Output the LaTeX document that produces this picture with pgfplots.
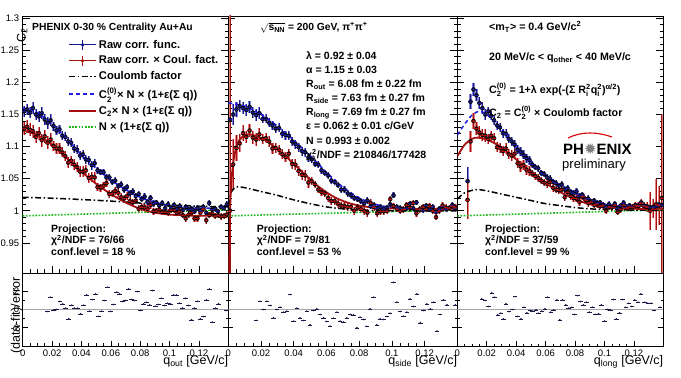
\documentclass[border=0pt]{standalone}
\usepackage{pgfplots}
\pgfplotsset{compat=1.18}
\usepackage{pgfplotstable}
\usepackage{amsmath}
\usepackage{fontspec}
\setmainfont{Liberation Sans}
\newfontfamily\djv{DejaVu Sans}

\definecolor{dblue}{RGB}{25,25,140}
\definecolor{lblue}{RGB}{130,130,215}
\definecolor{dred}{RGB}{165,15,15}
\definecolor{lred}{RGB}{228,130,130}
\definecolor{fblue}{RGB}{30,30,230}
\definecolor{fgreen}{RGB}{20,185,20}
\definecolor{resc}{RGB}{25,25,70}

\newcommand{\fb}{\fontsize{10.3}{12}\selectfont\bfseries}
\newcommand{\fc}{\fontsize{10.7}{12}\selectfont\bfseries}
\newcommand{\fp}{\fontsize{10.5}{12}\selectfont\bfseries}

% point with a short horizontal bar, as ROOT draws it
\pgfdeclareplotmark{hdot}{%
  \pgfpathmoveto{\pgfqpoint{-2.2pt}{0pt}}\pgfpathlineto{\pgfqpoint{2.2pt}{0pt}}\pgfusepathqstroke
  \pgfpathcircle{\pgfpointorigin}{\pgfplotmarksize}\pgfusepathqfill}

% ---------- panel 1 : q_out ----------
\pgfplotstableread{
q y e
0.001 1.128 0.010
0.003 1.131 0.010
0.005 1.126 0.010
0.007 1.124 0.010
0.009 1.115 0.010
0.011 1.121 0.010
0.013 1.110 0.010
0.015 1.116 0.010
0.017 1.106 0.010
0.019 1.111 0.010
0.021 1.101 0.008
0.023 1.097 0.008
0.025 1.097 0.008
0.027 1.091 0.008
0.029 1.085 0.008
0.031 1.075 0.008
0.033 1.078 0.008
0.035 1.072 0.008
0.037 1.068 0.008
0.039 1.061 0.008
0.041 1.061 0.008
0.043 1.063 0.008
0.045 1.051 0.008
0.047 1.053 0.008
0.049 1.052 0.008
0.051 1.037 0.006
0.053 1.036 0.006
0.055 1.039 0.006
0.057 1.043 0.006
0.059 1.026 0.006
0.061 1.027 0.006
0.063 1.031 0.006
0.065 1.028 0.006
0.067 1.021 0.006
0.069 1.019 0.006
0.071 1.023 0.006
0.073 1.015 0.006
0.075 1.013 0.006
0.077 1.016 0.006
0.079 1.003 0.006
0.081 1.006 0.006
0.083 1.005 0.006
0.085 1.003 0.006
0.087 1.009 0.006
0.089 0.999 0.006
0.091 1.000 0.005
0.093 1.002 0.005
0.095 0.998 0.005
0.097 0.998 0.005
0.099 0.997 0.005
0.101 1.001 0.005
0.103 1.001 0.005
0.105 0.997 0.005
0.107 0.999 0.005
0.109 0.993 0.005
0.111 0.988 0.005
0.113 0.994 0.005
0.115 0.997 0.005
0.117 0.988 0.005
0.119 0.988 0.005
0.121 0.997 0.005
0.123 1.003 0.005
0.125 0.985 0.005
0.127 0.993 0.005
0.129 0.996 0.005
0.131 0.992 0.005
0.133 0.993 0.005
0.135 0.991 0.005
0.137 0.992 0.005
0.139 0.994 0.005
}\redA

\pgfplotstableread{
q y e
0.001 1.155 0.009
0.003 1.158 0.009
0.005 1.153 0.009
0.007 1.160 0.009
0.009 1.150 0.009
0.011 1.147 0.009
0.013 1.152 0.009
0.015 1.142 0.009
0.017 1.137 0.009
0.019 1.141 0.009
0.021 1.132 0.007
0.023 1.125 0.007
0.025 1.127 0.007
0.027 1.117 0.007
0.029 1.115 0.007
0.031 1.108 0.007
0.033 1.106 0.007
0.035 1.097 0.007
0.037 1.095 0.007
0.039 1.086 0.007
0.041 1.088 0.007
0.043 1.080 0.007
0.045 1.079 0.007
0.047 1.071 0.007
0.049 1.074 0.007
0.051 1.063 0.005
0.053 1.060 0.005
0.055 1.060 0.005
0.057 1.052 0.005
0.059 1.052 0.005
0.061 1.045 0.005
0.063 1.047 0.005
0.065 1.038 0.005
0.067 1.041 0.005
0.069 1.033 0.005
0.071 1.037 0.005
0.073 1.027 0.005
0.075 1.030 0.005
0.077 1.023 0.005
0.079 1.026 0.005
0.081 1.018 0.005
0.083 1.022 0.005
0.085 1.014 0.005
0.087 1.020 0.005
0.089 1.011 0.005
0.091 1.013 0.0045
0.093 1.008 0.0045
0.095 1.012 0.0045
0.097 1.004 0.0045
0.099 1.010 0.0045
0.101 1.005 0.0045
0.103 1.009 0.0045
0.105 1.003 0.0045
0.107 1.007 0.0045
0.109 1.001 0.0045
0.111 1.006 0.0045
0.113 1.002 0.0045
0.115 1.003 0.0045
0.117 0.999 0.0045
0.119 1.004 0.0045
0.121 1.000 0.0045
0.123 1.006 0.0045
0.125 0.997 0.0045
0.127 1.012 0.0045
0.129 1.002 0.0045
0.131 1.003 0.0045
0.133 0.999 0.0045
0.135 1.006 0.0045
0.137 1.004 0.0045
0.139 1.010 0.0045
}\blueA

\pgfplotstableread{
q r
0.0170 -0.22
0.0190 1.35
0.0211 -0.04
0.0231 0.00
0.0252 0.87
0.0272 0.62
0.0292 0.15
0.0313 -1.02
0.0333 0.47
0.0354 0.15
0.0374 0.15
0.0394 -0.47
0.0415 0.47
0.0435 1.60
0.0456 -0.18
0.0476 1.09
0.0496 1.71
0.0517 -0.76
0.0537 -0.18
0.0558 0.98
0.0578 2.44
0.0598 -0.22
0.0619 0.55
0.0639 1.89
0.0660 1.71
0.0680 0.87
0.0700 0.98
0.0721 2.25
0.0741 1.09
0.0762 0.98
0.0782 1.96
0.0802 -0.11
0.0823 0.62
0.0843 0.80
0.0864 0.51
0.0884 2.07
0.0904 0.36
0.0925 0.55
0.0945 1.24
0.0966 0.44
0.0986 0.69
0.1006 0.62
0.1027 1.60
0.1047 1.60
0.1068 0.69
0.1088 0.15
0.1108 1.24
0.1129 0.44
0.1149 -1.13
0.1170 0.15
0.1190 0.91
0.1210 -1.02
0.1231 -0.76
0.1251 1.05
0.1272 2.25
0.1292 -1.38
0.1312 0.15
0.1333 0.62
0.1385 -0.11
}\resA

% ---------- panel 2 : q_side ----------
\pgfplotstableread{
q y e
0.001 1.000 0.350
0.003 1.072 0.040
0.005 1.098 0.020
0.007 1.105 0.014
0.009 1.121 0.012
0.011 1.115 0.010
0.013 1.125 0.010
0.015 1.114 0.010
0.017 1.111 0.010
0.019 1.119 0.010
0.021 1.112 0.008
0.023 1.113 0.008
0.025 1.108 0.008
0.027 1.097 0.008
0.029 1.098 0.008
0.031 1.095 0.008
0.033 1.088 0.008
0.035 1.084 0.008
0.037 1.089 0.008
0.039 1.073 0.008
0.041 1.072 0.008
0.043 1.062 0.008
0.045 1.056 0.008
0.047 1.055 0.008
0.049 1.044 0.008
0.051 1.046 0.006
0.053 1.041 0.006
0.055 1.033 0.006
0.057 1.029 0.006
0.059 1.027 0.006
0.061 1.020 0.006
0.063 1.015 0.006
0.065 1.015 0.006
0.067 1.011 0.006
0.069 1.008 0.006
0.071 1.007 0.006
0.073 1.006 0.006
0.075 1.006 0.006
0.077 1.000 0.006
0.079 1.005 0.006
0.081 1.003 0.006
0.083 1.000 0.006
0.085 0.997 0.006
0.087 1.012 0.006
0.089 1.006 0.006
0.091 0.996 0.005
0.093 0.999 0.005
0.095 0.999 0.005
0.097 1.000 0.005
0.099 1.018 0.005
0.101 1.007 0.005
0.103 1.003 0.005
0.105 1.000 0.005
0.107 1.002 0.005
0.109 1.009 0.005
0.111 1.005 0.005
0.113 1.012 0.005
0.115 0.996 0.005
0.117 1.002 0.005
0.119 1.006 0.005
0.121 1.003 0.005
0.123 1.007 0.005
0.125 1.000 0.005
0.127 0.990 0.005
0.129 1.000 0.005
0.131 1.008 0.005
0.133 1.005 0.005
0.135 1.004 0.005
0.137 1.007 0.005
0.139 1.005 0.005
}\redB

\pgfplotstableread{
q y e
0.001 1.142 0.025
0.003 1.150 0.016
0.005 1.158 0.012
0.007 1.163 0.009
0.009 1.160 0.009
0.011 1.157 0.009
0.013 1.162 0.009
0.015 1.153 0.009
0.017 1.149 0.009
0.019 1.152 0.009
0.021 1.143 0.007
0.023 1.143 0.007
0.025 1.137 0.007
0.027 1.133 0.007
0.029 1.128 0.007
0.031 1.129 0.007
0.033 1.120 0.007
0.035 1.118 0.007
0.037 1.117 0.007
0.039 1.108 0.007
0.041 1.104 0.007
0.043 1.099 0.007
0.045 1.093 0.007
0.047 1.091 0.007
0.049 1.083 0.007
0.051 1.080 0.005
0.053 1.073 0.005
0.055 1.072 0.005
0.057 1.063 0.005
0.059 1.059 0.005
0.061 1.055 0.005
0.063 1.047 0.005
0.065 1.045 0.005
0.067 1.040 0.005
0.069 1.033 0.005
0.071 1.033 0.005
0.073 1.027 0.005
0.075 1.024 0.005
0.077 1.020 0.005
0.079 1.018 0.005
0.081 1.015 0.005
0.083 1.011 0.005
0.085 1.016 0.005
0.087 1.007 0.005
0.089 1.009 0.005
0.091 1.004 0.0045
0.093 1.006 0.0045
0.095 1.003 0.0045
0.097 1.005 0.0045
0.099 1.010 0.0045
0.101 1.024 0.0045
0.103 1.006 0.0045
0.105 1.004 0.0045
0.107 1.002 0.0045
0.109 1.004 0.0045
0.111 1.011 0.0045
0.113 1.004 0.0045
0.115 1.013 0.0045
0.117 1.002 0.0045
0.119 1.001 0.0045
0.121 1.008 0.0045
0.123 1.002 0.0045
0.125 1.006 0.0045
0.127 0.998 0.0045
0.129 1.003 0.0045
0.131 1.007 0.0045
0.133 1.003 0.0045
0.135 1.004 0.0045
0.137 1.009 0.0045
0.139 1.004 0.0045
}\blueB

\pgfplotstableread{
q r
0.0170 -1.20
0.0194 0.91
0.0215 0.00
0.0235 0.91
0.0256 0.44
0.0276 -0.91
0.0296 0.00
0.0317 0.25
0.0337 -0.29
0.0358 -0.18
0.0378 1.64
0.0398 -1.27
0.0419 0.15
0.0439 -0.91
0.0460 -1.20
0.0480 -0.18
0.0500 -1.67
0.0521 -0.11
0.0541 0.07
0.0562 -0.55
0.0582 -0.91
0.0602 -1.31
0.0623 -1.82
0.0643 -0.95
0.0664 -0.29
0.0684 -1.27
0.0704 -1.38
0.0725 -0.91
0.0745 -0.55
0.0766 -0.58
0.0786 -2.00
0.0806 -0.84
0.0827 -1.09
0.0847 -1.85
0.0868 0.07
0.0888 1.35
0.0908 -1.67
0.0929 -1.02
0.0949 -1.09
0.0970 -0.76
0.0990 -0.40
0.1010 2.98
0.1031 0.80
0.1051 -0.22
0.1072 -0.73
0.1092 -0.29
0.1112 1.16
0.1133 0.33
0.1153 1.71
0.1174 -1.45
0.1194 -0.11
0.1214 0.62
0.1235 0.07
0.1255 0.80
0.1276 -2.36
0.1296 -0.55
0.1316 1.05
0.1337 0.51
0.1388 0.51
}\resB

% ---------- panel 3 : q_long ----------
\pgfplotstableread{
q y e
0.007 1.017 0.030
0.009 1.108 0.016
0.011 1.140 0.013
0.013 1.128 0.010
0.015 1.122 0.010
0.017 1.118 0.010
0.019 1.117 0.010
0.021 1.112 0.008
0.023 1.117 0.008
0.025 1.113 0.008
0.027 1.099 0.008
0.029 1.098 0.008
0.031 1.093 0.008
0.033 1.097 0.008
0.035 1.088 0.008
0.037 1.086 0.008
0.039 1.089 0.008
0.041 1.074 0.008
0.043 1.069 0.008
0.045 1.071 0.008
0.047 1.064 0.008
0.049 1.062 0.008
0.051 1.058 0.006
0.053 1.054 0.006
0.055 1.051 0.006
0.057 1.047 0.006
0.059 1.044 0.006
0.061 1.042 0.006
0.063 1.045 0.006
0.065 1.036 0.006
0.067 1.033 0.006
0.069 1.032 0.006
0.071 1.033 0.006
0.073 1.021 0.006
0.075 1.029 0.006
0.077 1.023 0.006
0.079 1.020 0.006
0.081 1.019 0.006
0.083 1.014 0.006
0.085 1.022 0.006
0.087 1.017 0.006
0.089 1.012 0.006
0.091 1.014 0.005
0.093 1.009 0.005
0.095 1.010 0.005
0.097 1.007 0.005
0.099 1.008 0.005
0.101 1.000 0.005
0.103 1.006 0.005
0.105 1.005 0.005
0.107 1.009 0.005
0.109 0.998 0.005
0.111 1.002 0.005
0.113 1.009 0.005
0.115 1.004 0.005
0.117 1.006 0.005
0.119 1.005 0.005
0.121 1.008 0.005
0.123 1.007 0.006
0.125 1.012 0.006
0.127 1.007 0.007
0.129 1.006 0.008
0.131 1.000 0.030
0.133 1.003 0.015
0.135 1.010 0.040
0.137 1.008 0.030
0.139 1.020 0.130
}\redC

\pgfplotstableread{
q y e
0.007 1.046 0.022
0.009 1.170 0.012
0.011 1.189 0.010
0.013 1.180 0.009
0.015 1.168 0.009
0.017 1.160 0.009
0.019 1.150 0.009
0.021 1.155 0.007
0.023 1.148 0.007
0.025 1.141 0.007
0.027 1.133 0.007
0.029 1.130 0.007
0.031 1.121 0.007
0.033 1.120 0.007
0.035 1.112 0.007
0.037 1.108 0.007
0.039 1.103 0.007
0.041 1.095 0.007
0.043 1.092 0.007
0.045 1.087 0.007
0.047 1.082 0.007
0.049 1.079 0.007
0.051 1.072 0.005
0.053 1.068 0.005
0.055 1.066 0.005
0.057 1.059 0.005
0.059 1.057 0.005
0.061 1.052 0.005
0.063 1.050 0.005
0.065 1.045 0.005
0.067 1.043 0.005
0.069 1.039 0.005
0.071 1.041 0.005
0.073 1.033 0.005
0.075 1.035 0.005
0.077 1.029 0.005
0.079 1.027 0.005
0.081 1.030 0.005
0.083 1.022 0.005
0.085 1.025 0.005
0.087 1.018 0.005
0.089 1.019 0.005
0.091 1.014 0.0045
0.093 1.016 0.0045
0.095 1.012 0.0045
0.097 1.013 0.0045
0.099 1.009 0.0045
0.101 1.006 0.0045
0.103 1.010 0.0045
0.105 1.006 0.0045
0.107 1.011 0.0045
0.109 1.004 0.0045
0.111 1.008 0.0045
0.113 1.012 0.0045
0.115 1.006 0.0045
0.117 1.008 0.0045
0.119 1.006 0.0045
0.121 1.009 0.0045
0.123 1.008 0.005
0.125 1.013 0.005
0.127 1.008 0.006
0.129 1.007 0.007
0.131 1.005 0.009
0.133 1.006 0.010
0.135 1.007 0.012
0.137 1.010 0.020
0.139 1.009 0.030
}\blueC

\pgfplotstableread{
q r
0.0166 1.16
0.0188 0.98
0.0211 0.33
0.0234 1.82
0.0252 1.35
0.0275 -0.58
0.0295 -0.40
0.0313 -1.02
0.0331 0.62
0.0352 -0.22
0.0374 0.00
0.0393 1.42
0.0410 -0.76
0.0433 -1.02
0.0453 0.25
0.0472 -0.36
0.0494 -0.11
0.0512 -0.18
0.0535 -0.04
0.0553 -0.40
0.0574 -0.18
0.0596 0.07
0.0614 1.35
0.0635 -0.29
0.0655 -0.04
0.0676 1.05
0.0696 -1.13
0.0716 1.05
0.0737 0.51
0.0757 0.15
0.0778 0.25
0.0796 -0.55
0.0816 1.53
0.0836 0.87
0.0857 0.51
0.0877 0.80
0.0898 -0.29
0.0918 0.25
0.0938 -0.55
0.0959 -0.47
0.0979 0.51
0.1000 -1.27
0.1020 0.00
0.1040 -0.04
0.1061 1.09
0.1081 -1.02
0.1102 -0.36
0.1124 1.09
0.1145 0.25
0.1165 0.69
0.1186 0.33
0.1206 1.05
0.1227 0.80
0.1247 1.71
0.1272 0.80
0.1295 0.69
0.1317 0.69
0.1338 -0.11
0.1378 0.25
}\resC

\pgfplotsset{
  rootbase/.style={scale only axis, xmin=0, xmax=0.14, clip=true,
    tick align=inside, xtick pos=left, ytick pos=both,
    xtick={0,0.02,0.04,0.06,0.08,0.1,0.12}, minor x tick num=3,
    axis line style={line width=0.7pt},
    every tick/.style={black, line width=0.6pt},
    ticklabel style={font=\fontsize{9.5}{10}\selectfont},
    xticklabels={}, yticklabels={},
    label style={font=\fontsize{12.5}{14}\selectfont}},
  toppan/.style={rootbase, height=257pt, ymin=0.903, ymax=1.3035,
    ytick={0.95,1,1.05,1.1,1.15,1.2,1.25,1.3}, minor y tick num=4,
    major tick length=7pt, minor tick length=3.5pt},
  botpan/.style={rootbase, height=73pt, ymin=-4, ymax=4,
    ytick={-2,0,2}, minor y tick num=1,
    major tick length=5pt, minor tick length=2.5pt,
    x label style={at={(rel axis cs:1,0)}, anchor=north east, inner sep=0pt, yshift=-9.5pt}},
  lightbar/.style={only marks, mark=none, forget plot,
    error bars/.cd, y dir=both, y explicit, error mark=none,
    error bar style={#1, line width=2.2pt}},
  darkbar/.style={only marks, mark=hdot, mark size=1.3pt, #1, forget plot,
    error bars/.cd, y dir=both, y explicit,
    error mark=none, error bar style={#1, line width=0.7pt}},
  coul/.style={black, line width=1.5pt, dash pattern=on 6pt off 2.5pt on 1.5pt off 2.5pt, forget plot},
  lev/.style={fblue, line width=1.5pt, dash pattern=on 4pt off 3pt, forget plot},
  fitc/.style={dred, line width=1.8pt, forget plot},
  nline/.style={fgreen, line width=1.6pt, dash pattern=on 1.6pt off 1.6pt, forget plot},
}

\begin{document}
\begin{tikzpicture}

% ===== panel 1 top =====
\begin{axis}[toppan, at={(22.7pt,105pt)}, anchor=south west, width=205.6pt,
  yticklabels={0.95,1,1.05,1.1,1.15,1.2,1.25,1.3},
  ylabel={C\textsubscript{2}},
  y label style={at={(rel axis cs:0,1)}, anchor=south east, inner sep=0pt, xshift=-12.2pt, yshift=-5pt},
  legend style={at={(0.22,0.915)}, anchor=north west, draw=none, fill=none,
    font=\fontsize{11.2}{12}\selectfont\bfseries, row sep=2.2pt, inner sep=0pt,
    /tikz/every even column/.style={column sep=4pt}},
  legend cell align=left]
\addplot[lightbar=lblue] table[x=q, y=y, y error=e] {\blueA};
\addplot[lightbar=lred] table[x=q, y=y, y error=e] {\redA};
\addplot[darkbar=dblue] table[x=q, y=y, y error=e] {\blueA};
\addplot[darkbar=dred] table[x=q, y=y, y error=e] {\redA};
\addplot[nline] coordinates {(0,0.992) (0.14,1.0015)};
\addplot[coul, smooth] coordinates {(0,1.021) (0.02,1.0195) (0.04,1.0175) (0.06,1.015) (0.08,1.012) (0.10,1.009) (0.12,1.007) (0.14,1.006)};
\addplot[lev, smooth] coordinates {(0,1.160) (0.01,1.153) (0.02,1.135) (0.03,1.112) (0.04,1.087) (0.05,1.066) (0.06,1.048) (0.07,1.033) (0.08,1.021) (0.09,1.013) (0.10,1.008) (0.11,1.005) (0.12,1.004) (0.13,1.004) (0.14,1.005)};
\addplot[fitc, smooth] coordinates {(0,1.125) (0.01,1.118) (0.02,1.103) (0.03,1.082) (0.04,1.061) (0.05,1.042) (0.06,1.026) (0.07,1.013) (0.08,1.003) (0.09,0.997) (0.10,0.994) (0.11,0.993) (0.12,0.992) (0.13,0.993) (0.14,0.993)};
\addlegendimage{legend image code/.code={\draw[dblue,line width=0.9pt] (0pt,0pt) -- (27pt,0pt); \draw[dblue,line width=0.9pt] (13.5pt,-5pt) -- (13.5pt,5pt); \fill[dblue] (13.5pt,0pt) circle (1.6pt);}}
\addlegendentry{Raw corr. func.}
\addlegendimage{legend image code/.code={\draw[dred,line width=0.9pt] (0pt,0pt) -- (27pt,0pt); \draw[dred,line width=0.9pt] (13.5pt,-5pt) -- (13.5pt,5pt); \fill[dred] (13.5pt,0pt) circle (1.6pt);}}
\addlegendentry{Raw corr. × Coul. fact.}
\addlegendimage{legend image code/.code={\draw[black,line width=1.5pt,dash pattern=on 6pt off 2.5pt on 1.5pt off 2.5pt] (0pt,0pt) -- (27pt,0pt);}}
\addlegendentry{Coulomb factor}
\addlegendimage{legend image code/.code={\draw[fblue,line width=1.5pt,dash pattern=on 4pt off 3pt] (0pt,0pt) -- (27pt,0pt);}}
\addlegendentry{C$^{\text{(0)}}_{\text{2}}$× N × (1+ε(Σ q))}
\addlegendimage{legend image code/.code={\draw[dred,line width=1.8pt] (0pt,0pt) -- (27pt,0pt);}}
\addlegendentry{C\textsubscript{2}× N × (1+ε(Σ q))}
\addlegendimage{legend image code/.code={\draw[fgreen,line width=1.6pt,dash pattern=on 1.6pt off 1.6pt] (0pt,0pt) -- (27pt,0pt);}}
\addlegendentry{N × (1+ε(Σ q))}
\end{axis}

% ===== panel 1 bottom =====
\begin{axis}[botpan, at={(22.7pt,32pt)}, anchor=south west, width=205.6pt,
  xticklabels={0,0.02,0.04,0.06,0.08,0.1,0.12},
  yticklabels={-2,0,2},
  xlabel={q\textsubscript{out} [GeV/c]},
  ylabel={(data-fit)/error},
  y label style={at={(rel axis cs:0,0.5)}, anchor=south, inner sep=0pt, xshift=-6.2pt}]
\addplot[gray!70, line width=0.7pt, forget plot] coordinates {(0,0) (0.14,0)};
\addplot[only marks, mark=hdot, mark size=0.9pt, resc, forget plot] table[x=q, y=r] {\resA};
\end{axis}

% ===== panel 2 top =====
\begin{axis}[toppan, at={(228.3pt,105pt)}, anchor=south west, width=229pt]
\addplot[lightbar=lblue] table[x=q, y=y, y error=e] {\blueB};
\addplot[lightbar=lred] table[x=q, y=y, y error=e] {\redB};
\addplot[darkbar=dblue] table[x=q, y=y, y error=e] {\blueB};
\addplot[darkbar=dred] table[x=q, y=y, y error=e] {\redB};
\addplot[nline] coordinates {(0,0.992) (0.14,1.0015)};
\addplot[coul, smooth, tension=0.5] coordinates {(0.0003,0.95) (0.001,1.015) (0.002,1.030) (0.005,1.037) (0.01,1.036) (0.015,1.033) (0.02,1.030) (0.03,1.024) (0.04,1.017) (0.05,1.011) (0.06,1.006) (0.07,1.003) (0.08,1.001) (0.10,1.000) (0.14,1.000)};
\addplot[lev, smooth] coordinates {(0,1.168) (0.01,1.163) (0.02,1.150) (0.03,1.132) (0.04,1.110) (0.05,1.086) (0.06,1.060) (0.07,1.037) (0.08,1.020) (0.09,1.010) (0.10,1.005) (0.11,1.003) (0.12,1.002) (0.14,1.002)};
\addplot[fitc, smooth, tension=0.5] coordinates {(0.0003,0.85) (0.001,0.99) (0.002,1.05) (0.004,1.09) (0.007,1.111) (0.011,1.119) (0.015,1.118) (0.02,1.113) (0.025,1.106) (0.035,1.085) (0.045,1.061) (0.055,1.038) (0.065,1.021) (0.075,1.011) (0.085,1.006) (0.095,1.004) (0.11,1.003) (0.14,1.003)};
\end{axis}

% ===== panel 2 bottom =====
\begin{axis}[botpan, at={(228.3pt,32pt)}, anchor=south west, width=229pt,
  xticklabels={0,0.02,0.04,0.06,0.08,0.1,0.12},
  xlabel={q\textsubscript{side} [GeV/c]}]
\addplot[gray!70, line width=0.7pt, forget plot] coordinates {(0,0) (0.14,0)};
\addplot[only marks, mark=hdot, mark size=0.9pt, resc, forget plot] table[x=q, y=r] {\resB};
\end{axis}

% ===== panel 3 top =====
\begin{axis}[toppan, at={(457.3pt,105pt)}, anchor=south west, width=206pt]
\addplot[lightbar=lblue] table[x=q, y=y, y error=e] {\blueC};
\addplot[lightbar=lred] table[x=q, y=y, y error=e] {\redC};
\addplot[darkbar=dblue] table[x=q, y=y, y error=e] {\blueC};
\addplot[darkbar=dred] table[x=q, y=y, y error=e] {\redC};
\addplot[nline] coordinates {(0,0.992) (0.14,1.0015)};
\addplot[coul, smooth] coordinates {(0,1.018) (0.005,1.028) (0.013,1.033) (0.02,1.031) (0.03,1.026) (0.04,1.021) (0.05,1.016) (0.06,1.011) (0.07,1.008) (0.08,1.005) (0.09,1.003) (0.10,1.002) (0.12,1.001) (0.14,1.0005)};
\addplot[lev, smooth] coordinates {(0,1.118) (0.005,1.135) (0.01,1.149) (0.015,1.155) (0.02,1.150) (0.03,1.127) (0.04,1.099) (0.05,1.076) (0.06,1.056) (0.07,1.040) (0.08,1.028) (0.09,1.018) (0.10,1.011) (0.11,1.007) (0.12,1.005) (0.14,1.004)};
\addplot[fitc, smooth] coordinates {(0,1.085) (0.005,1.103) (0.01,1.112) (0.014,1.114) (0.02,1.111) (0.03,1.099) (0.04,1.080) (0.05,1.060) (0.06,1.043) (0.07,1.029) (0.08,1.018) (0.09,1.010) (0.10,1.006) (0.11,1.004) (0.12,1.003) (0.14,1.003)};
\end{axis}

% ===== panel 3 bottom =====
\begin{axis}[botpan, at={(457.3pt,32pt)}, anchor=south west, width=206pt,
  xticklabels={0,0.02,0.04,0.06,0.08,0.1,0.12},
  xlabel={q\textsubscript{long} [GeV/c]}]
\addplot[gray!70, line width=0.7pt, forget plot] coordinates {(0,0) (0.14,0)};
\addplot[only marks, mark=hdot, mark size=0.9pt, resc, forget plot] table[x=q, y=r] {\resC};
\end{axis}

% ===== annotations =====
\node[anchor=base west, inner sep=0pt, font=\fb] at (32pt,347.5pt) {PHENIX 0-30 \% Centrality Au+Au};
\node[anchor=base west, inner sep=0pt, font=\fp] at (51pt,145.5pt) {Projection:};
\node[anchor=base west, inner sep=0pt, font=\fp] at (51pt,134pt) {χ\textsuperscript{2}/NDF = 76/66};
\node[anchor=base west, inner sep=0pt, font=\fp] at (51pt,122.5pt) {conf.level = 18 \%};
\node[anchor=base west, inner sep=0pt, font=\fp] at (256.7pt,145.5pt) {Projection:};
\node[anchor=base west, inner sep=0pt, font=\fp] at (256.7pt,134pt) {χ\textsuperscript{2}/NDF = 79/81};
\node[anchor=base west, inner sep=0pt, font=\fp] at (256.7pt,122.5pt) {conf.level = 53 \%};
\node[anchor=base west, inner sep=0pt, font=\fp] at (485pt,145.5pt) {Projection:};
\node[anchor=base west, inner sep=0pt, font=\fp] at (485pt,134pt) {χ\textsuperscript{2}/NDF = 37/59};
\node[anchor=base west, inner sep=0pt, font=\fp] at (485pt,122.5pt) {conf.level = 99 \%};

\node[anchor=base west, inner sep=0pt, font=\fb] at (260pt,347.5pt) {$\sqrt{\text{s}_{\text{NN}}}$ = 200 GeV, π\textsuperscript{+}π\textsuperscript{+}};
\node[anchor=base west, inner sep=0pt, font=\fp] at (306pt,318.5pt) {λ = 0.92 ± 0.04};
\node[anchor=base west, inner sep=0pt, font=\fp] at (306pt,304.4pt) {α = 1.15 ± 0.03};
\node[anchor=base west, inner sep=0pt, font=\fp] at (306pt,290.3pt) {R\textsubscript{out} = 6.08 fm ± 0.22 fm};
\node[anchor=base west, inner sep=0pt, font=\fp] at (306pt,276.2pt) {R\textsubscript{side} = 7.63 fm ± 0.27 fm};
\node[anchor=base west, inner sep=0pt, font=\fp] at (306pt,262.1pt) {R\textsubscript{long} = 7.69 fm ± 0.27 fm};
\node[anchor=base west, inner sep=0pt, font=\fp] at (306pt,248pt) {ε = 0.062 ± 0.01 c/GeV};
\node[anchor=base west, inner sep=0pt, font=\fp] at (306pt,233.9pt) {N = 0.993 ± 0.002};
\node[anchor=base west, inner sep=0pt, font=\fp] at (306pt,219.8pt) {χ$^{\text{2}}_{\text{λ}}$/NDF = 210846/177428};

\node[anchor=base west, inner sep=0pt, font=\fc] at (489pt,347.5pt) {<m\textsubscript{T}> = 0.4 GeV/c\textsuperscript{2}};
\node[anchor=base west, inner sep=0pt, font=\fc] at (489pt,317.5pt) {20 MeV/c < q\textsubscript{other} < 40 MeV/c};
\node[anchor=base west, inner sep=0pt, font=\fc] at (489pt,284.5pt) {C$^{\text{(0)}}_{\text{2}}$ = 1+λ exp(-(Σ R$^{\text{2}}_{\text{i}}$q$^{\text{2}}_{\text{i}}$)$^{\text{α/2}}$)};
\node[anchor=base west, inner sep=0pt, font=\fc] at (489pt,261.5pt) {C\textsubscript{2} = C$^{\text{(0)}}_{\text{2}}$ × Coulomb factor};

% PHENIX preliminary logo
\draw[red!85!black, line width=1.1pt] (568pt,240pt) .. controls (582pt,247pt) and (598pt,246pt) .. (612pt,241pt);
\node[anchor=base west, inner sep=0pt, font=\fontsize{15}{16}\selectfont\bfseries] at (563pt,223pt) {PH{\djv\color{gray}✹}ENIX};
\node[anchor=base west, inner sep=0pt, font=\fontsize{13}{14}\selectfont] at (562pt,209pt) {preliminary};

\pgfresetboundingbox
\useasboundingbox (0pt,0pt) rectangle (681pt,378pt);
\end{tikzpicture}
\end{document}
